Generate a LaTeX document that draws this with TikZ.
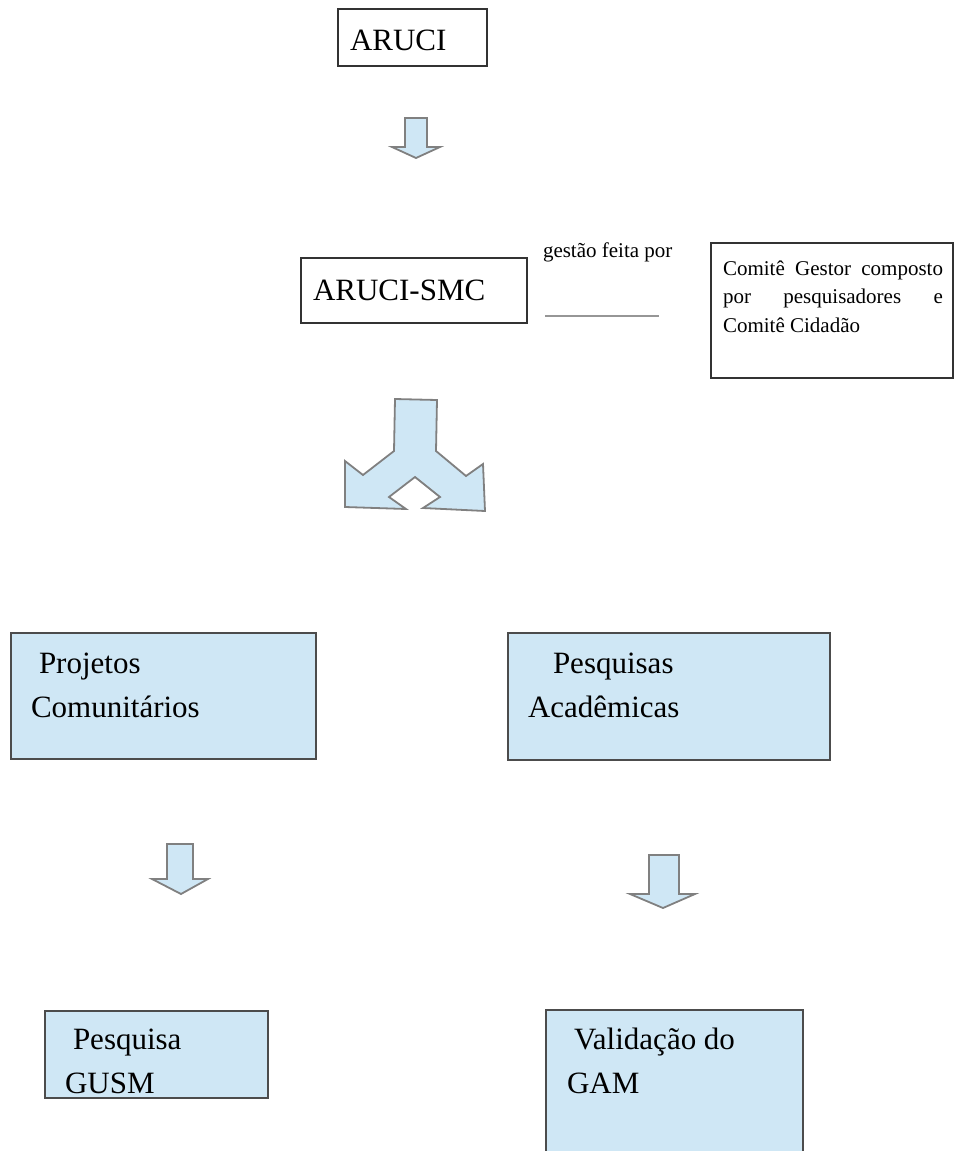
\documentclass[tikz,border=0pt]{standalone}
\usepackage{fontspec}
\setmainfont{Liberation Serif}
\usepackage{tikz}
\usetikzlibrary{positioning}

\definecolor{boxblue}{RGB}{207,231,245}
\definecolor{arrowgray}{RGB}{128,128,128}
\definecolor{linegray}{RGB}{150,150,150}

\begin{document}
\begin{tikzpicture}[x=1pt,y=-1pt,
  every node/.style={inner sep=0pt,outer sep=0pt},
  plainbox/.style={draw=black!80,line width=1.1pt,rectangle,anchor=north west},
  bluebox/.style={plainbox,draw=black!70,fill=boxblue},
  bigtext/.style={font=\fontsize{31}{44}\selectfont,align=left,anchor=base west},
  smalltext/.style={font=\fontsize{21}{28.5}\selectfont,align=left,anchor=base west},
  blockarrow/.style={draw=arrowgray,line width=1.8pt,fill=boxblue,line join=miter}]

    \useasboundingbox (0,0) rectangle (955,1151);

    % top boxes
    \node[plainbox,minimum width=149pt,minimum height=57pt] (aruci) at (338,9) {};
    \node[bigtext] (aruci-t) at (350,50) {ARUCI};

    \node[plainbox,minimum width=226pt,minimum height=65pt] (smc) at (301,258) {};
    \node[bigtext] (smc-t) at (313,300) {ARUCI-SMC};

    \node[smalltext] (gestao) at (543,257) {gestão feita por};
    \coordinate (gl) at (545,316);
    \coordinate (gr) at (659,316);
    \draw[linegray,line width=1.8pt] (gl) -- (gr);

    % base anchor = last line
    \node[plainbox,minimum width=242pt,minimum height=135pt] (comite) at (711,243) {};
    \node[smalltext] (comite-t) at (723,332)
        {\makebox[220pt][s]{Comitê\hfill Gestor\hfill composto}\\
         \makebox[220pt][s]{por\hfill pesquisadores\hfill e}\\
         Comitê Cidadão};

    % blue boxes
    \node[bluebox,minimum width=305pt,minimum height=126pt] (projetos) at (11,633) {};
    \node[bigtext] (projetos-t) at (31,717) {\hspace{8pt}Projetos\\Comunitários};

    \node[bluebox,minimum width=322pt,minimum height=127pt] (pesquisas) at (508,633) {};
    \node[bigtext] (pesquisas-t) at (528,717) {\hspace{25pt}Pesquisas\\Acadêmicas};

    \node[bluebox,minimum width=223pt,minimum height=87pt] (gusm) at (45,1011) {};
    \node[bigtext] (gusm-t) at (65,1093) {\hspace{8pt}Pesquisa\\GUSM};

    \node[bluebox,minimum width=257pt,minimum height=150pt] (gam) at (546,1010) {};
    \node[bigtext] (gam-t) at (567,1093) {\hspace{7pt}Validação do\\GAM};

    % block arrows
    \draw[blockarrow] (405,118) -- (427,118) -- (427,147) -- (440,147)
        -- (416,158) -- (392,147) -- (405,147) -- cycle;

    \draw[blockarrow] (395,399) -- (437,400) -- (436,451) -- (466,476)
        -- (483,464) -- (485,511) -- (423,508) -- (440,497) -- (415,477)
        -- (389,497) -- (406,509) -- (345,507) -- (345,461) -- (363,475)
        -- (394,451) -- cycle;

    \draw[blockarrow] (167,844) -- (193,844) -- (193,879) -- (208,879)
        -- (181,894) -- (152,879) -- (167,879) -- cycle;

    \draw[blockarrow] (649,855) -- (679,855) -- (679,894) -- (695,894)
        -- (663,908) -- (630,894) -- (649,894) -- cycle;
\end{tikzpicture}
\end{document}
